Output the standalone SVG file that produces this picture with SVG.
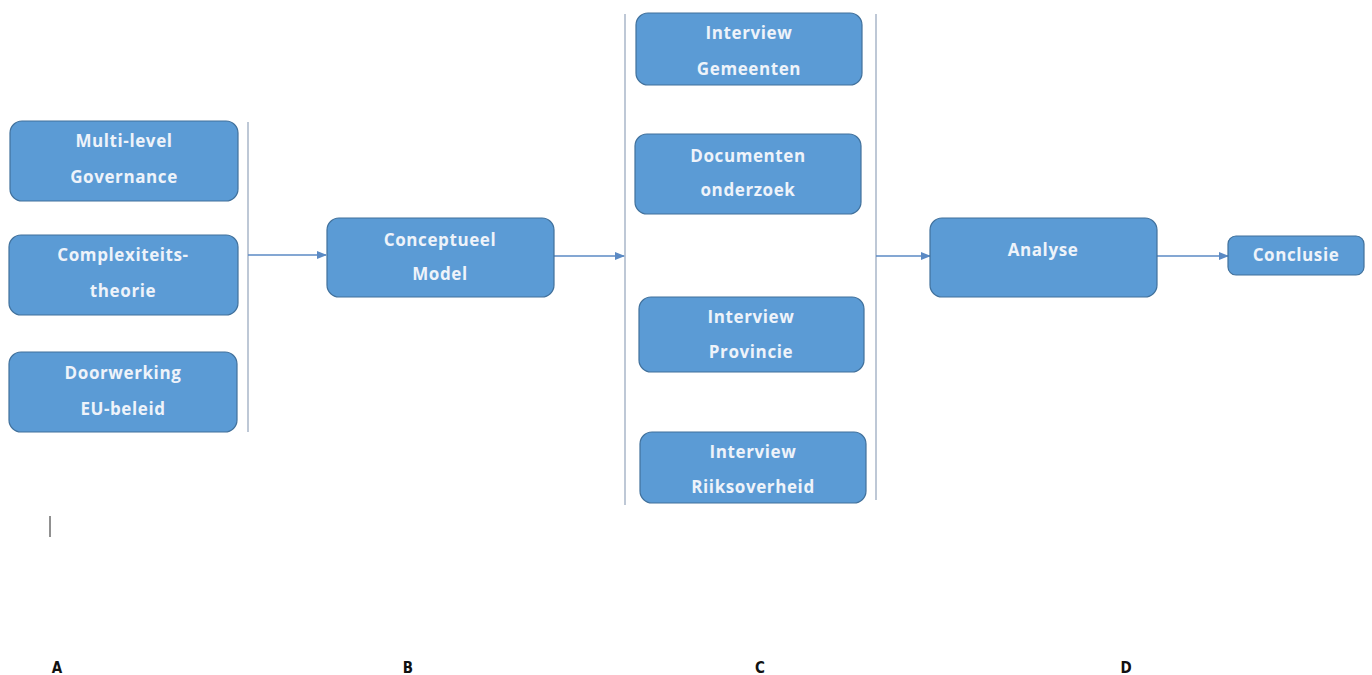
<svg xmlns="http://www.w3.org/2000/svg" width="1372" height="675" viewBox="0 0 1372 675">
<style>
.box{fill:#5b9bd5;stroke:#41719c;stroke-width:1.2}
.t{font-family:"Open Sans","Liberation Sans",sans-serif;font-weight:bold;font-size:17px;letter-spacing:0.6px;fill:#eef3fa;text-anchor:middle}
.sep{stroke:#a9b6c8;stroke-width:1.5;fill:none}
.arr{stroke:#5b8ac4;stroke-width:1.3;fill:none;marker-end:url(#ah)}
.lbl{font-family:"DejaVu Sans Condensed","Liberation Sans",sans-serif;font-stretch:condensed;font-weight:bold;font-size:15px;fill:#111;text-anchor:middle}
</style>
<defs>
<marker id="ah" markerWidth="10" markerHeight="8" refX="9" refY="4" orient="auto" markerUnits="userSpaceOnUse">
<path d="M0,0 L10,4 L0,8 Z" fill="#5b8ac4"/>
</marker>
</defs>
<rect width="1372" height="675" fill="#ffffff"/>
<g id="connectors">
<line class="sep" x1="248" y1="122" x2="248" y2="432"/>
<line class="sep" x1="625" y1="14" x2="625" y2="505"/>
<line class="sep" x1="876" y1="14" x2="876" y2="500"/>
<line class="arr" x1="248" y1="255" x2="326" y2="255"/>
<line class="arr" x1="554" y1="256" x2="624" y2="256"/>
<line class="arr" x1="876" y1="256" x2="930" y2="256"/>
<line class="arr" x1="1157" y1="256" x2="1228" y2="256"/>
</g>
<g id="n-mlg"><rect class="box" x="10" y="121" width="228" height="80" rx="12"/><text class="t" x="124" y="147">Multi-level</text><text class="t" x="124" y="183">Governance</text></g>
<g id="n-complex"><rect class="box" x="9" y="235" width="229" height="80" rx="12"/><text class="t" x="123" y="261">Complexiteits-</text><text class="t" x="123" y="297">theorie</text></g>
<g id="n-eu"><rect class="box" x="9" y="352" width="228" height="80" rx="12"/><text class="t" x="123" y="379">Doorwerking</text><text class="t" x="123" y="415">EU-beleid</text></g>
<g id="n-concept"><rect class="box" x="327" y="218" width="227" height="79" rx="12"/><text class="t" x="440" y="246">Conceptueel</text><text class="t" x="440" y="280">Model</text></g>
<g id="n-gem"><rect class="box" x="636" y="13" width="226" height="72" rx="12"/><text class="t" x="749" y="39">Interview</text><text class="t" x="749" y="75">Gemeenten</text></g>
<g id="n-doc"><rect class="box" x="635" y="134" width="226" height="80" rx="12"/><text class="t" x="748" y="162">Documenten</text><text class="t" x="748" y="196">onderzoek</text></g>
<g id="n-prov"><rect class="box" x="639" y="297" width="225" height="75" rx="12"/><text class="t" x="751" y="323">Interview</text><text class="t" x="751" y="358">Provincie</text></g>
<g id="n-rijk"><rect class="box" x="640" y="432" width="226" height="71" rx="12"/><text class="t" x="753" y="458">Interview</text><text class="t" x="753" y="493">Riiksoverheid</text></g>
<g id="n-analyse"><rect class="box" x="930" y="218" width="227" height="79" rx="12"/><text class="t" x="1043" y="256">Analyse</text></g>
<g id="n-concl"><rect class="box" x="1228" y="236" width="136" height="39" rx="8"/><text class="t" x="1296" y="261">Conclusie</text></g>
<line x1="50" y1="516" x2="50" y2="537" stroke="#222" stroke-width="1"/>
<text class="lbl" x="57" y="673">A</text>
<text class="lbl" x="408" y="673">B</text>
<text class="lbl" x="760" y="673">C</text>
<text class="lbl" x="1126" y="673">D</text>
</svg>
